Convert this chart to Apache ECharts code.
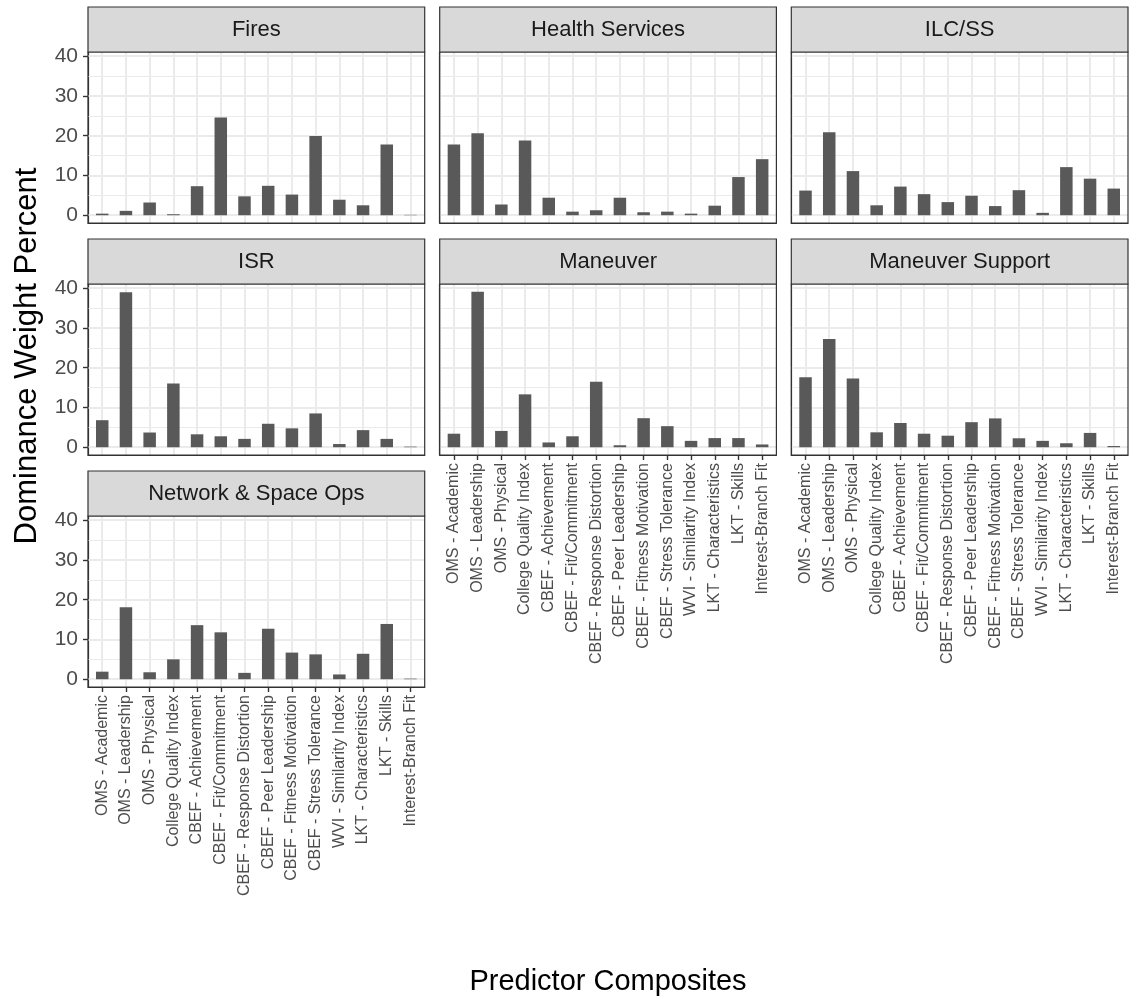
<!DOCTYPE html>
<html><head><meta charset="utf-8">
<script src="https://cdn.jsdelivr.net/npm/echarts@6/dist/echarts.min.js"></script>
<style>html,body{margin:0;padding:0;background:#fff}#c{width:1129px;height:997px}</style>
</head><body><div id="c"></div>
<script>
const categories = ['OMS - Academic','OMS - Leadership','OMS - Physical','College Quality Index','CBEF - Achievement','CBEF - Fit/Commitment','CBEF - Response Distortion','CBEF - Peer Leadership','CBEF - Fitness Motivation','CBEF - Stress Tolerance','WVI - Similarity Index','LKT - Characteristics','LKT - Skills','Interest-Branch Fit'];
const panelNames = ['Fires','Health Services','ILC/SS','ISR','Maneuver','Maneuver Support','Network & Space Ops'];
const fires = [0.4,1.1,3.2,0.25,7.3,24.6,4.75,7.4,5.2,19.9,3.9,2.5,17.8,0.1];
const healthServices = [17.8,20.6,2.7,18.8,4.4,0.9,1.25,4.4,0.75,0.9,0.4,2.4,9.6,14.1];
const ilcSs = [6.2,20.9,11.1,2.5,7.2,5.3,3.3,4.9,2.3,6.3,0.6,12.1,9.2,6.7];
const isr = [6.8,39.0,3.7,16.0,3.25,2.75,2.1,5.9,4.75,8.5,0.8,4.3,2.1,0.15];
const maneuver = [3.4,39.1,4.1,13.3,1.2,2.75,16.5,0.5,7.3,5.3,1.6,2.3,2.3,0.7];
const maneuverSupport = [17.6,27.25,17.3,3.75,6.1,3.4,2.9,6.3,7.25,2.25,1.6,1.0,3.6,0.3];
const networkSpaceOps = [1.9,18.1,1.75,5.0,13.6,11.8,1.6,12.7,6.7,6.25,1.2,6.4,13.9,0.15];
const yTicks = [0,10,20,30,40];
const yMinor = [5,15,25,35];
const xTitle = 'Predictor Composites';
const yTitle = 'Dominance Weight Percent';

const seriesValues = [fires, healthServices, ilcSs, isr, maneuver, maneuverSupport, networkSpaceOps];
const allVals = [].concat(...seriesValues);
const dmax = Math.max(...allVals);
const yMin = -0.05 * dmax, yMax = 1.05 * dmax;
const idx = categories.map((_, i) => i);

const FONT = 'Liberation Sans, Arial, sans-serif';
const colL = [88, 439.7, 791.3], PW = 336.7;
const rowT = [52, 284, 516], PH = 171, SH = 45;
const DARK = '#333333';

const grids = [], xAxes = [], yAxes = [], series = [], graphics = [];
panelNames.forEach((name, k) => {
  const c = k % 3, r = Math.floor(k / 3);
  const left = colL[c], top = rowT[r];
  const showX = (k + 3) >= panelNames.length;
  const showY = c === 0;
  grids.push({left: left, top: top, width: PW, height: PH, containLabel: false});
  xAxes.push({
    type: 'value', gridIndex: k, min: -0.6, max: 13.6, position: 'bottom',
    splitLine: {show: false},
    axisLine: {show: true, onZero: false, lineStyle: {color: DARK, width: 1.2}},
    axisTick: {show: showX, inside: false, customValues: idx, length: 5, lineStyle: {color: DARK, width: 1.4}},
    axisLabel: {show: showX, customValues: idx, rotate: 90, fontSize: 16, color: '#4D4D4D', fontFamily: FONT, margin: 8,
      formatter: v => categories[Math.round(v)]}
  });
  yAxes.push({
    type: 'value', gridIndex: k, min: yMin, max: yMax, position: 'left',
    splitLine: {show: false},
    axisLine: {show: true, onZero: false, lineStyle: {color: DARK, width: 1.2}},
    axisTick: {show: showY, inside: false, customValues: yTicks, length: 5, lineStyle: {color: DARK, width: 1.4}},
    axisLabel: {show: showY, customValues: yTicks, fontSize: 21, color: '#4D4D4D', fontFamily: FONT, margin: 10}
  });
  const mlData = [];
  yMinor.forEach(v => mlData.push({yAxis: v, lineStyle: {width: 1.1}}));
  yTicks.forEach(v => mlData.push({yAxis: v, lineStyle: {width: 2}}));
  idx.forEach(v => mlData.push({xAxis: v, lineStyle: {width: 2}}));
  series.push({
    type: 'bar', xAxisIndex: k, yAxisIndex: k, z: 3,
    data: idx.map(i => [i, seriesValues[k][i]]),
    barWidth: 12.5,
    itemStyle: {color: '#595959'},
    markLine: {silent: true, symbol: 'none', z: 1, animation: false,
      label: {show: false},
      lineStyle: {color: '#EBEBEB', type: 'solid'},
      data: mlData}
  });
  graphics.push({type: 'rect', z: 100, silent: true,
    shape: {x: left, y: top, width: PW, height: PH},
    style: {fill: 'none', stroke: DARK, lineWidth: 1.2}});
  graphics.push({type: 'rect', z: 100, silent: true,
    shape: {x: left, y: top - SH, width: PW, height: SH},
    style: {fill: '#D9D9D9', stroke: DARK, lineWidth: 1.2}});
  graphics.push({type: 'text', z: 101, silent: true,
    x: left + PW / 2, y: top - SH / 2,
    style: {text: name, fill: '#1A1A1A', font: '22px ' + FONT, textAlign: 'center', textVerticalAlign: 'middle'}});
});
graphics.push({type: 'text', z: 101, silent: true, x: 608, y: 982,
  style: {text: xTitle, fill: '#000000', font: '29px ' + FONT, textAlign: 'center', textVerticalAlign: 'middle'}});
graphics.push({type: 'text', z: 101, silent: true, x: 27, y: 356, rotation: Math.PI / 2,
  style: {text: yTitle, fill: '#000000', font: '31px ' + FONT, textAlign: 'center', textVerticalAlign: 'middle'}});

const chart = echarts.init(document.getElementById('c'), null, {renderer: 'canvas'});
chart.setOption({
  animation: false,
  backgroundColor: '#ffffff',
  grid: grids, xAxis: xAxes, yAxis: yAxes, series: series, graphic: graphics
});
</script></body></html>
